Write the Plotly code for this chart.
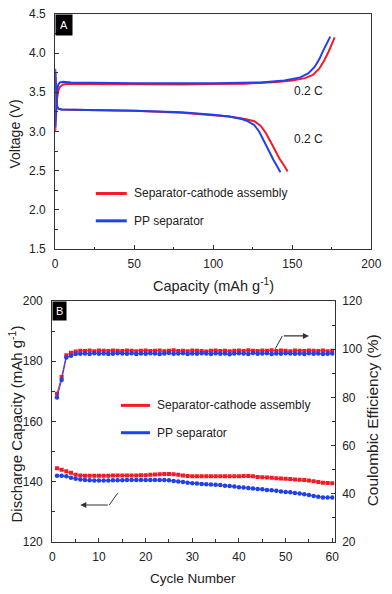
import plotly.graph_objects as go

# ---- panel A: charge / discharge profiles at 0.2 C ----
red_chg_cap = [0, 0.5, 1, 2, 3, 5, 8, 20, 50, 80, 100, 120, 140, 150, 158, 163, 167, 170, 173, 176.8]
red_chg_v = [3.00, 3.25, 3.40, 3.52, 3.57, 3.60, 3.61, 3.605, 3.60, 3.60, 3.605, 3.61, 3.63, 3.65, 3.68, 3.72, 3.80, 3.90, 4.02, 4.20]
blue_chg_cap = [0, 0.5, 1, 2, 3, 5, 10, 50, 100, 130, 145, 155, 160, 164, 167, 170, 174]
blue_chg_v = [3.05, 3.35, 3.50, 3.60, 3.625, 3.635, 3.625, 3.615, 3.615, 3.625, 3.65, 3.69, 3.74, 3.82, 3.92, 4.05, 4.21]

red_dis_cap = [0, 0.5, 1, 2, 4, 20, 50, 80, 100, 110, 120, 126, 130, 133, 136, 139, 142, 145, 147]
red_dis_v = [3.75, 3.45, 3.33, 3.29, 3.28, 3.275, 3.265, 3.24, 3.21, 3.19, 3.16, 3.13, 3.07, 2.99, 2.88, 2.76, 2.65, 2.56, 2.49]
blue_dis_cap = [0, 0.5, 1, 2, 4, 20, 50, 80, 100, 110, 118, 122, 126, 129, 132, 135, 138, 140.5, 142.5]
blue_dis_v = [3.80, 3.45, 3.32, 3.29, 3.28, 3.275, 3.265, 3.245, 3.215, 3.19, 3.16, 3.13, 3.08, 3.00, 2.89, 2.76, 2.64, 2.55, 2.48]

# ---- panel B: cycling ----
cycles = list(range(1, 61))
red_cap = [144.5, 144.0, 143.5, 143.0, 142.3, 142.1, 142.0, 142.0, 142.0, 142.0,
           142.0, 142.0, 142.1, 142.1, 142.1, 142.1, 142.1, 142.1, 142.2, 142.2,
           142.3, 142.4, 142.5, 142.6, 142.6, 142.5, 142.3, 142.1, 141.9, 141.8,
           141.8, 141.8, 141.8, 141.8, 141.8, 141.8, 141.8, 141.8, 141.8, 141.8,
           141.9, 141.9, 141.8, 141.6, 141.5, 141.4, 141.3, 141.2, 141.1, 141.0,
           140.9, 140.8, 140.7, 140.6, 140.4, 140.2, 139.9, 139.7, 139.6, 139.5]
blue_cap = [142.0, 142.0, 141.8, 141.3, 141.0, 140.8, 140.6, 140.5, 140.4, 140.4,
            140.4, 140.4, 140.5, 140.5, 140.5, 140.6, 140.6, 140.6, 140.6, 140.6,
            140.6, 140.6, 140.6, 140.6, 140.5, 140.3, 140.1, 139.9, 139.7, 139.5,
            139.4, 139.3, 139.2, 139.1, 139.0, 138.9, 138.7, 138.6, 138.4, 138.2,
            138.1, 137.9, 137.8, 137.6, 137.5, 137.3, 137.2, 137.0, 136.8, 136.6,
            136.5, 136.3, 136.1, 135.9, 135.6, 135.3, 135.0, 134.8, 134.8, 134.8]
red_ce = [81.5, 88.5, 97.5, 98.5, 99.0, 99.3, 99.2, 99.4, 99.1, 99.4,
          99.3, 99.2, 99.4, 99.3, 99.2, 99.4, 99.3, 99.1, 99.3, 99.4,
          99.2, 99.3, 99.4, 99.1, 99.3, 99.5, 99.2, 99.3, 99.1, 99.4,
          99.3, 99.2, 99.0, 99.3, 99.4, 99.2, 99.3, 99.1, 99.3, 99.4,
          99.2, 99.5, 99.3, 99.2, 99.4, 99.3, 99.5, 99.2, 99.4, 99.3,
          99.1, 99.4, 99.3, 99.2, 99.4, 99.3, 99.2, 99.4, 99.1, 99.3]
blue_ce = [80.0, 87.2, 96.5, 97.3, 98.0, 98.1, 98.2, 98.0, 98.3, 98.1,
           98.2, 98.0, 98.1, 98.3, 98.2, 98.1, 98.3, 98.0, 98.2, 98.1,
           98.3, 98.2, 98.0, 98.2, 98.4, 98.1, 98.2, 98.3, 98.0, 98.2,
           98.1, 98.3, 98.2, 98.0, 98.3, 98.1, 98.2, 97.9, 98.2, 98.3,
           98.2, 98.0, 98.4, 98.1, 98.2, 98.3, 98.0, 98.2, 98.1, 98.3,
           98.2, 98.1, 98.2, 98.0, 98.3, 98.1, 98.2, 98.0, 98.1, 98.2]

legend_names = ['Separator-cathode assembly', 'PP separator']

RED = '#f51a24'
BLUE = '#1f3ff0'
AX = '#333333'
FONT = 'Arial, Liberation Sans, sans-serif'
W, H = 392, 594

def px(x):
    return x / W

def py(y):
    return 1 - y / H

fig = go.Figure()

# panel A
fig.add_trace(go.Scatter(x=red_chg_cap, y=red_chg_v, mode='lines', line=dict(color=RED, width=2)))
fig.add_trace(go.Scatter(x=red_dis_cap, y=red_dis_v, mode='lines', line=dict(color=RED, width=2)))
fig.add_trace(go.Scatter(x=blue_chg_cap, y=blue_chg_v, mode='lines', line=dict(color=BLUE, width=2)))
fig.add_trace(go.Scatter(x=blue_dis_cap, y=blue_dis_v, mode='lines', line=dict(color=BLUE, width=2)))

# panel B
fig.add_trace(go.Scatter(x=cycles, y=red_cap, xaxis='x2', yaxis='y2', mode='lines+markers',
                         line=dict(color=RED, width=1), marker=dict(symbol='square', size=4, color=RED)))
fig.add_trace(go.Scatter(x=cycles, y=blue_cap, xaxis='x2', yaxis='y2', mode='lines+markers',
                         line=dict(color=BLUE, width=1), marker=dict(symbol='circle', size=4.5, color=BLUE)))
fig.add_trace(go.Scatter(x=cycles, y=red_ce, xaxis='x2', yaxis='y3', mode='lines+markers',
                         line=dict(color=RED, width=1), marker=dict(symbol='square', size=4, color=RED)))
fig.add_trace(go.Scatter(x=cycles, y=blue_ce, xaxis='x2', yaxis='y3', mode='lines+markers',
                         line=dict(color=BLUE, width=1), marker=dict(symbol='circle', size=4.5, color=BLUE)))

axis_common = dict(showline=True, linecolor=AX, linewidth=1.2, showgrid=False, zeroline=False,
                   ticks='inside', ticklen=4, tickcolor=AX, tickwidth=1.2,
                   tickfont=dict(size=12, color='#222', family=FONT),
                   minor=dict(ticks='inside', ticklen=2.5, tickcolor=AX, tickwidth=1))

fig.update_layout(
    width=W, height=H, margin=dict(l=0, r=0, t=0, b=0),
    paper_bgcolor='white', plot_bgcolor='white', showlegend=False,
    font=dict(family=FONT, color='#222', size=12),
    xaxis=dict(axis_common, domain=[px(54), px(381)], anchor='y', range=[0, 200], dtick=50,
               minor=dict(axis_common['minor'], dtick=25), mirror=True, ticklabelstandoff=3),
    yaxis=dict(axis_common, domain=[py(248), py(7)], anchor='x', range=[1.5, 4.5], dtick=0.5,
               tickformat='.1f', minor=dict(axis_common['minor'], dtick=0.25), mirror=True,
               ticklabelstandoff=6),
    xaxis2=dict(axis_common, domain=[px(51), px(343)], anchor='y2', range=[0, 60.5], dtick=10,
                minor=dict(axis_common['minor'], dtick=5), mirror=True, ticklabelstandoff=3),
    yaxis2=dict(axis_common, domain=[py(548), py(301)], anchor='x2', range=[120, 200], dtick=20,
                minor=dict(axis_common['minor'], dtick=10), ticklabelstandoff=6),
    yaxis3=dict(axis_common, overlaying='y2', side='right', anchor='x2', range=[20, 120], dtick=20,
                minor=dict(axis_common['minor'], dtick=10), ticklabelstandoff=4),
)

ann_font = dict(size=12, family=FONT, color='#222')

def centred(x, y, text, size, **kw):
    return dict(x=px(x), y=py(y), xref='paper', yref='paper', text=text, showarrow=False,
                xanchor='center', yanchor='middle',
                font=dict(size=size, family=FONT, color='#222'), **kw)

annotations = [
    dict(x=px(54), y=py(7), xref='paper', yref='paper', xanchor='left', yanchor='top', text='A',
         showarrow=False, bgcolor='black', font=dict(size=11, color='white', family=FONT), borderpad=4),
    dict(x=px(51), y=py(301), xref='paper', yref='paper', xanchor='left', yanchor='top', text='B',
         showarrow=False, bgcolor='black', font=dict(size=11, color='white', family=FONT), borderpad=3),
    dict(x=160, y=3.52, xref='x', yref='y', text='0.2 C', showarrow=False, font=ann_font),
    dict(x=160, y=2.90, xref='x', yref='y', text='0.2 C', showarrow=False, font=ann_font),
    centred(218, 285, 'Capacity (mAh g<sup>-1</sup>)', 14.5),
    centred(12, 130, 'Voltage (V)', 14, textangle=-90),
    centred(196, 585, 'Cycle Number', 13.5),
    centred(13, 427, 'Discharge Capacity (mAh g<sup>-1</sup>)', 15, textangle=-90),
    centred(382, 423, 'Coulombic Efficiency (%)', 15.5, textangle=-90),
    # arrows pointing to the axes
    dict(x=6, y=132.3, ax=12.2, ay=132.3, xref='x2', yref='y2', axref='x2', ayref='y2', text='',
         showarrow=True, arrowhead=2, arrowsize=1, arrowwidth=1.2, arrowcolor=AX),
    dict(x=55, y=105.5, ax=49.3, ay=105.5, xref='x2', yref='y3', axref='x2', ayref='y3', text='',
         showarrow=True, arrowhead=2, arrowsize=1, arrowwidth=1.2, arrowcolor=AX),
]

# hand-drawn legends (line sample + label) for both panels
legend_pos = [(96, 128, [191, 219]), (122, 152, [408, 436])]
for x0, x1, ys in legend_pos:
    for name, color, yy in zip(legend_names, [RED, BLUE], ys):
        fig.add_shape(type='line', xref='paper', yref='paper', x0=px(x0), x1=px(x1),
                      y0=py(yy), y1=py(yy), line=dict(color=color, width=3))
        annotations.append(dict(x=px(x1 + 5), y=py(yy), xref='paper', yref='paper', text=name,
                                xanchor='left', yanchor='middle', showarrow=False, font=ann_font))

fig.update_layout(annotations=annotations)

fig.add_shape(type='line', x0=12.2, y0=132.3, x1=14, y1=136.2, xref='x2', yref='y2',
              line=dict(color=AX, width=1))
fig.add_shape(type='line', x0=47.8, y0=100.2, x1=49.3, y1=105.5, xref='x2', yref='y3',
              line=dict(color=AX, width=1))

fig.write_html("out.html", config={'displayModeBar': False},
               post_script="document.body.style.margin='0';")
